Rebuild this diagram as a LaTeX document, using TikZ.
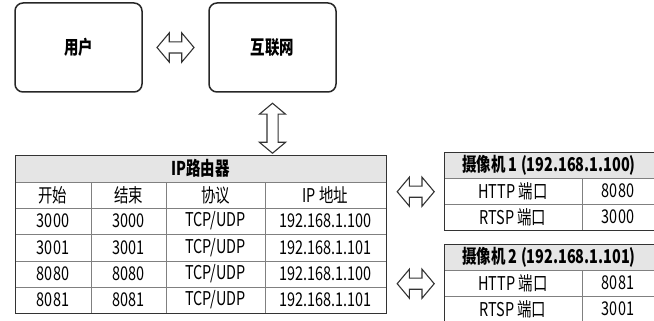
\documentclass[tikz,border=0pt]{standalone}
\usepackage{fontspec}
\setmainfont{Noto Sans CJK SC}[FakeStretch=0.76]
\usetikzlibrary{shapes.arrows,calc,positioning}

\begin{document}
\begin{tikzpicture}[x=1pt, y=-1pt,
    font=\fontsize{19}{22}\selectfont,
    box/.style={rectangle, draw=black!85, line width=1.5pt, rounded corners=8pt, minimum width=127pt, minimum height=89pt, font=\fontsize{19}{22}\selectfont\bfseries},
    frame/.style={rectangle, draw=black!80, line width=1.4pt, inner sep=0pt, anchor=north west},
    grid/.style={draw=black!50, line width=1pt},
    headfill/.style={fill=black!10},
    cell/.style={inner sep=0pt},
    headcell/.style={inner sep=0pt, font=\fontsize{19}{22}\selectfont\bfseries},
    fatarrow/.style={double arrow, draw=black!80, fill=white, line width=1.1pt, inner xsep=0pt, inner ysep=5pt, minimum height=37pt, double arrow head extend=9pt, double arrow tip angle=100}
]
    \useasboundingbox (0,0) rectangle (654,321);

    % top row
    \node[box] (user) at (78.5,47.5) {用户};
    \node[box] (net) at (272.5,47.5) {互联网};

    % router table
    \fill[headfill] (15,155) rectangle (386,182);
    \foreach \y in {182,208,234,261,287}
        \draw[grid] (15,\y) -- (386,\y);
    \foreach \x in {91,166,265}
        \draw[grid] (\x,182) -- (\x,313);
    \node[frame, minimum width=371pt, minimum height=158pt] (router) at (15,155) {};
    \node[headcell] (rthead) at (200.5,168.5) {IP路由器};
    \foreach \y/\a/\b/\c/\d [count=\i] in {195/开始/结束/协议/IP 地址,
            221/3000/3000/{TCP/UDP}/192.168.1.100,
            247.5/3001/3001/{TCP/UDP}/192.168.1.101,
            274/8080/8080/{TCP/UDP}/192.168.1.100,
            300/8081/8081/{TCP/UDP}/192.168.1.101} {
        \node[cell] (rt\i a) at (53,\y) {\a};
        \node[cell] (rt\i b) at (128.5,\y) {\b};
        \node[cell] (rt\i c) at (215.5,\y) {\c};
        \node[cell] (rt\i d) at (325.5,\y) {\d};
    }

    % camera tables
    \foreach \t/\n/\ip/\http/\rtsp in {152/1/100/8080/3000, 244/2/101/8081/3001} {
        \fill[headfill] (444,\t) rectangle (655,\t+26);
        \draw[grid] (444,\t+26) -- (655,\t+26);
        \draw[grid] (444,\t+52) -- (655,\t+52);
        \draw[grid] (582,\t+26) -- (582,\t+78);
        \node[frame, minimum width=211pt, minimum height=78pt] (cam\n) at (444,\t) {};
        \node[headcell] (cam\n head) at (549,\t+13) {摄像机 \n\ (192.168.1.\ip)};
        \node[cell] (cam\n http) at (513,\t+39) {HTTP 端口};
        \node[cell] (cam\n httpv) at (618,\t+39) {\http};
        \node[cell] (cam\n rtsp) at (513,\t+65) {RTSP 端口};
        \node[cell] (cam\n rtspv) at (618,\t+65) {\rtsp};
    }

    % connectors
    \node[fatarrow] (link1) at ($(user.east)!.5!(net.west)$) {};
    \node[fatarrow, shape border rotate=90, inner xsep=5pt, inner ysep=0pt, minimum height=50pt, double arrow head extend=7.5pt] (link2) at ($(net.south)!.57!(net.south |- router.north)$) {};
    \node[fatarrow] (link3) at ($(router.east |- cam1.west)!.5!(cam1.west)$) {};
    \node[fatarrow] (link4) at ($(router.east |- cam2.west)!.5!(cam2.west)$) {};
\end{tikzpicture}
\end{document}
